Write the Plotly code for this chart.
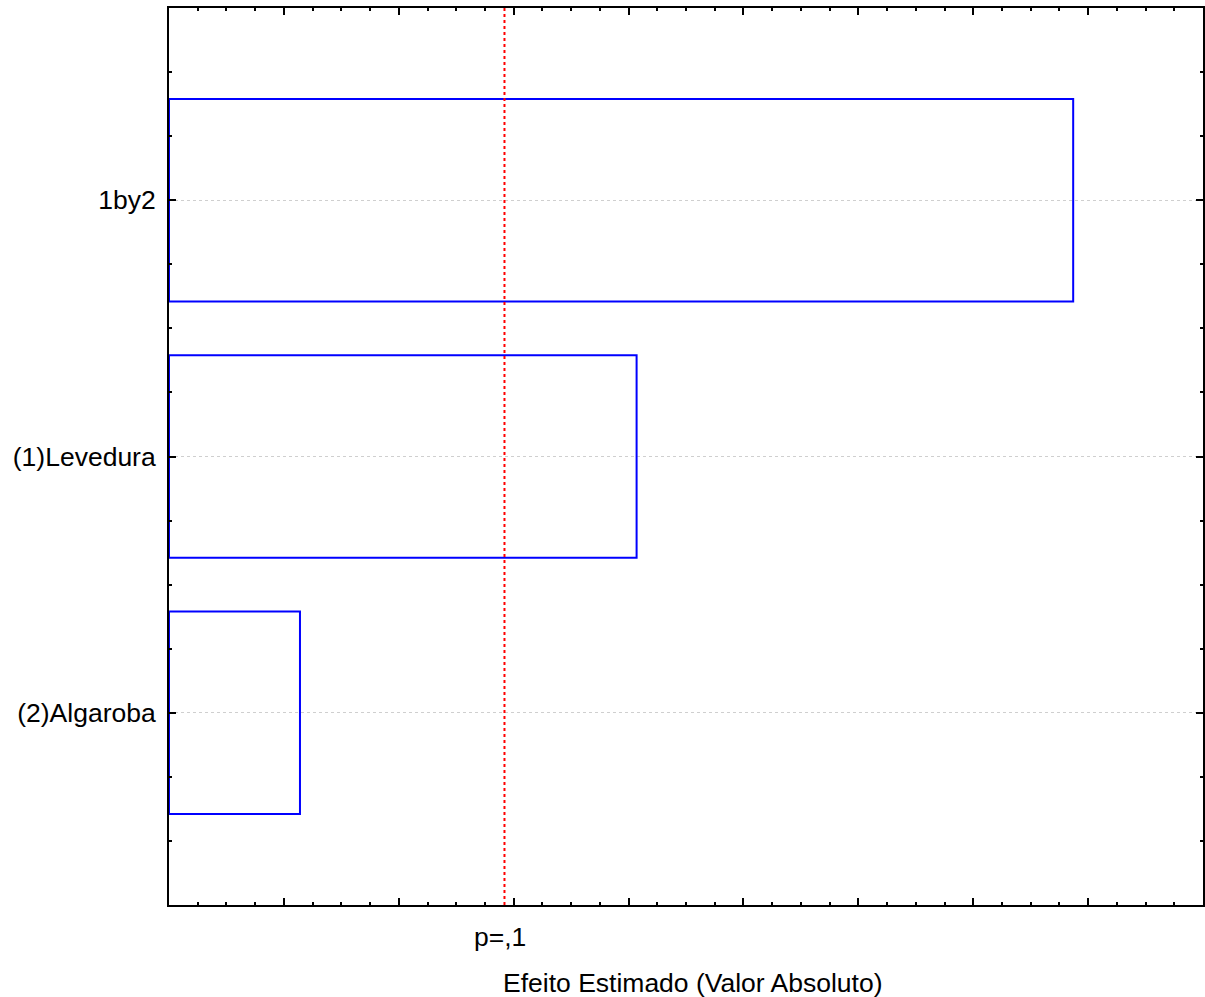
import plotly.graph_objects as go

categories = ["(2)Algaroba", "(1)Levedura", "1by2"]
effects = [1.14, 4.07, 7.87]
p_value_line = 2.92
p_label = "p=,1"
x_title = "Efeito Estimado (Valor Absoluto)"

ypos = list(range(len(categories)))

font = dict(family="Liberation Sans, Arial, sans-serif", size=26.5, color="black")

fig = go.Figure()
fig.add_trace(go.Bar(
    x=effects, y=ypos, orientation="h", width=0.79,
    marker=dict(color="rgba(0,0,0,0)", line=dict(color="#0000FF", width=2)),
    showlegend=False, hoverinfo="x+y",
))

fig.add_shape(type="line", xref="x", yref="paper", x0=p_value_line, x1=p_value_line,
              y0=0, y1=1, line=dict(color="#FF0000", width=2, dash="dot"))

fig.add_annotation(x=p_value_line, xref="x", y=0, yref="paper", yshift=-32, yanchor="middle",
                   xshift=-4, text=p_label, showarrow=False, font=font)
fig.add_annotation(x=0.5, xref="paper", y=0, yref="paper", yshift=-78, yanchor="middle",
                   xshift=7, text=x_title, showarrow=False, font=font)

fig.update_layout(
    width=1205, height=997, autosize=False,
    margin=dict(l=169, r=2, t=8, b=92, pad=0),
    paper_bgcolor="white", plot_bgcolor="white",
    font=font,
    xaxis=dict(
        range=[0, 9], tickmode="linear", tick0=0, dtick=1, automargin=False,
        showticklabels=False, ticks="inside", ticklen=7, tickwidth=2, tickcolor="black",
        showline=True, linecolor="black", linewidth=2, mirror="ticks",
        showgrid=False, zeroline=False,
        minor=dict(dtick=0.25, tick0=0, ticks="inside", ticklen=3, tickwidth=2, tickcolor="black", showgrid=False),
    ),
    yaxis=dict(
        range=[-0.75, 2.75], tickmode="array", tickvals=ypos, ticktext=categories, automargin=False,
        ticks="inside", ticklen=7, tickwidth=2, tickcolor="black",
        showline=True, linecolor="black", linewidth=2, mirror="ticks",
        showgrid=True, gridcolor="#cfcfcf", griddash="dot", gridwidth=1,
        zeroline=False, ticklabelstandoff=6,
        tickfont=font,
        minor=dict(dtick=0.25, tick0=0, ticks="inside", ticklen=3, tickwidth=2, tickcolor="black", showgrid=False),
    ),
)

fig.write_html(
    "out.html",
    config={"responsive": False, "displayModeBar": False},
    post_script=(
        "document.body.style.margin='0';"
        "document.body.style.overflow='hidden';"
        "var gd=document.getElementById('{plot_id}');"
        "if(gd){Plotly.Plots.resize(gd);}"
    ),
)
